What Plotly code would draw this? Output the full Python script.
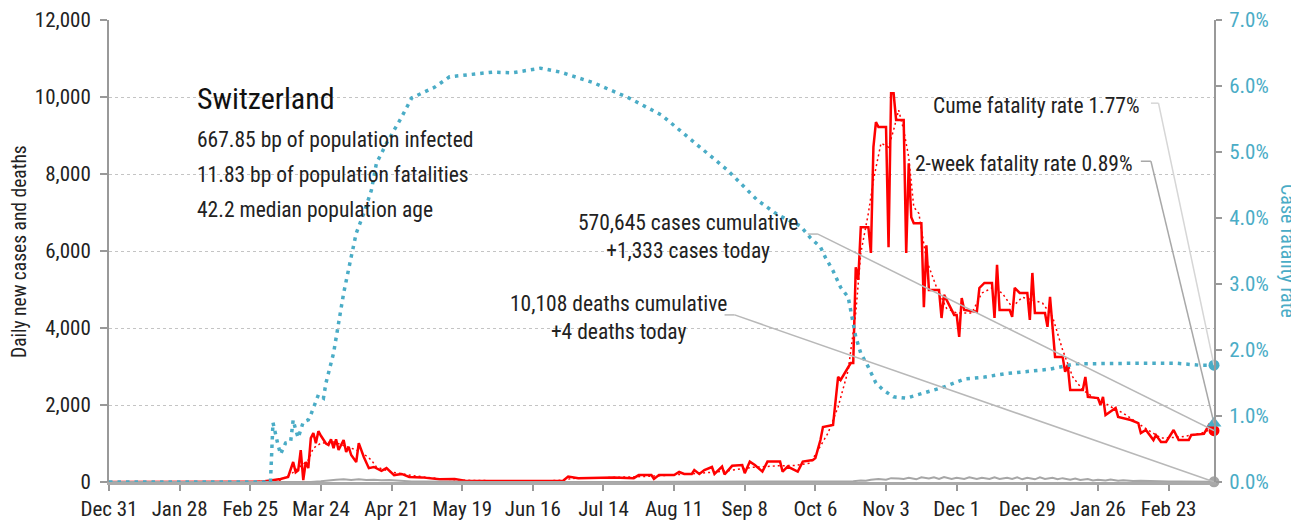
import pandas as pd
import plotly.graph_objects as go

# day offsets counted from 2019-12-31
START = pd.Timestamp("2019-12-31")

case_days = [0, 56, 60, 64, 68, 71, 73, 74, 75, 76, 77, 78, 79, 80, 81, 82, 83, 84, 85, 86,
             87, 88, 89, 90, 91, 92, 93, 94, 95, 96, 98, 99, 101, 103, 105, 108, 110, 113, 116, 119,
             121, 124, 131, 137, 141, 150, 160, 170, 180, 182, 186, 195, 200, 208, 210, 215, 216, 218, 224, 226,
             228, 231, 232, 234, 236, 239, 240, 243, 244, 247, 251, 252, 254, 256, 259, 261, 266, 267, 269, 273,
             275, 279, 280, 282, 283, 287, 288, 289, 290, 294, 295, 296, 297, 298, 301, 302, 303, 304, 305, 308,
             309, 310, 311, 312, 315, 316, 317, 318, 319, 322, 323, 324, 325, 329, 330, 331, 333, 335, 336, 337,
             338, 339, 344, 345, 347, 350, 351, 352, 353, 357, 358, 359, 361, 364, 365, 366, 367, 371, 372, 373,
             375, 378, 379, 380, 381, 386, 387, 388, 392, 393, 394, 395, 399, 400, 405, 408, 409, 411, 414, 415,
             417, 419, 422, 424, 428, 429, 434, 436, 438]
case_values = [0, 0, 10, 40, 80, 130, 520, 250, 300, 830, 50, 520, 360, 1140, 1270, 1010, 1320, 1200, 1090, 1000,
               960, 1110, 880, 1110, 830, 950, 1090, 780, 910, 700, 520, 1010, 650, 360, 390, 290, 360, 180, 210, 130,
               130, 120, 70, 80, 35, 30, 20, 25, 35, 140, 100, 110, 120, 100, 180, 180, 80, 180, 180, 260,
               210, 210, 310, 210, 310, 390, 210, 400, 200, 420, 440, 230, 530, 440, 270, 530, 530, 270, 400, 270,
               530, 570, 620, 1090, 1430, 1480, 2050, 2730, 2650, 3090, 3090, 5580, 5250, 6620, 6620, 5950, 8700, 9350, 9220, 9220,
               6100, 10100, 10100, 9400, 9400, 5950, 8280, 6880, 6720, 6720, 4540, 6150, 4990, 4990, 4260, 4860, 4600, 4340, 4340, 3770,
               4780, 4470, 4420, 5040, 5170, 5170, 4260, 5640, 4470, 4470, 4290, 5040, 4910, 4910, 4210, 5430, 4390, 4390, 4030, 4810,
               3250, 3250, 2860, 3040, 2390, 2390, 2730, 2210, 2180, 2000, 2210, 1740, 1920, 1690, 1610, 1530, 1270, 1350, 1090, 1220,
               1040, 1040, 1350, 1090, 1090, 1220, 1250, 1480, 1333]

avg_days = [0, 60, 64, 68, 72, 76, 79, 81, 84, 89, 92, 96, 100, 104, 106, 112, 120, 130, 140, 150,
            165, 178, 185, 195, 205, 215, 225, 235, 245, 255, 265, 272, 278, 285, 289, 293, 296, 298, 301, 303,
            306, 309, 311, 313, 315, 317, 319, 321, 324, 328, 332, 336, 342, 346, 350, 354, 358, 362, 366, 370,
            374, 378, 382, 386, 390, 394, 398, 402, 410, 417, 425, 433, 438]
avg_values = [0, 0, 20, 50, 200, 400, 570, 880, 1010, 1040, 980, 880, 780, 570, 390, 260, 170, 90, 45, 30,
              20, 40, 100, 110, 125, 150, 190, 230, 290, 380, 420, 430, 490, 1270, 1950, 2900, 4390, 5950, 6980, 7840,
              8800, 8700, 9140, 9660, 9140, 8440, 7140, 6980, 5770, 5060, 4510, 4390, 4390, 4910, 5040, 4910, 4540, 4800, 4730, 4650,
              4290, 3430, 2730, 2390, 2210, 2080, 1920, 1790, 1430, 1140, 1170, 1270, 1400]

death_days = [0, 80, 84, 87, 90, 93, 96, 99, 102, 105, 108, 111, 114, 117, 120, 125, 135, 150, 200, 250,
              280, 290, 295, 298, 300, 302, 305, 308, 310, 313, 315, 317, 320, 322, 325, 327, 329, 331, 334, 336,
              339, 341, 344, 346, 349, 351, 353, 356, 358, 360, 362, 364, 367, 369, 371, 374, 376, 378, 381, 383,
              385, 388, 390, 392, 395, 397, 400, 402, 406, 409, 413, 416, 420, 425, 430, 435, 438]
death_values = [0, 0, 20, 50, 60, 70, 55, 70, 55, 60, 45, 50, 35, 30, 15, 10, 5, 2, 2, 3,
                5, 10, 20, 40, 35, 60, 80, 60, 100, 90, 80, 110, 70, 120, 90, 120, 80, 130, 80, 110,
                80, 120, 80, 110, 80, 120, 80, 110, 80, 120, 70, 110, 70, 120, 80, 110, 70, 100, 60, 90,
                50, 80, 40, 60, 40, 65, 30, 45, 25, 30, 20, 25, 15, 15, 10, 8, 4]

cfr_days = [0, 64, 65, 66, 67, 68, 69, 70, 72, 73, 74, 75, 77, 79, 80, 82, 83, 85, 86, 89,
            91, 93, 96, 98, 101, 104, 106, 110, 116, 120, 129, 135, 152, 160, 171, 179, 192, 206, 219, 232,
            245, 257, 265, 274, 278, 282, 284, 287, 290, 293, 295, 296, 298, 301, 304, 307, 311, 316, 323, 331,
            339, 347, 355, 365, 373, 383, 396, 410, 423, 432, 438]
cfr_values = [0, 0, 0.90, 0.70, 0.56, 0.42, 0.50, 0.59, 0.61, 0.94, 0.79, 0.67, 0.91, 0.94, 1.02, 1.21, 1.32, 1.27, 1.50, 1.95,
              2.40, 2.86, 3.41, 3.77, 4.07, 4.42, 4.83, 5.13, 5.53, 5.82, 5.98, 6.14, 6.21, 6.20, 6.27, 6.21, 6.05, 5.82, 5.56, 5.15,
              4.73, 4.27, 4.05, 3.88, 3.70, 3.56, 3.40, 3.20, 2.95, 2.80, 2.40, 2.20, 1.95, 1.74, 1.50, 1.39, 1.29, 1.27, 1.35, 1.44,
              1.56, 1.59, 1.64, 1.68, 1.71, 1.79, 1.80, 1.80, 1.80, 1.77, 1.77]

last_cases = 1333
last_deaths = 4
cume_cfr = 1.77
two_week_cfr = 0.89

TEAL = "#4aacc6"
FONT = "Roboto Condensed, Liberation Sans Narrow, sans-serif"


def to_dates(days):
    return START + pd.to_timedelta(days, unit="D")


last_day = to_dates([438])[0]

fig = go.Figure()

fig.add_trace(go.Scatter(x=to_dates(avg_days), y=avg_values, mode="lines",
                         line=dict(color="#ff0000", width=1.5, dash="2px,3px")))
fig.add_trace(go.Scatter(x=to_dates(case_days), y=case_values, mode="lines",
                         line=dict(color="#ff0000", width=2.5)))
fig.add_trace(go.Scatter(x=to_dates(death_days), y=death_values, mode="lines",
                         line=dict(color="#a6a6a6", width=2)))
fig.add_trace(go.Scatter(x=to_dates(cfr_days), y=[v / 100 for v in cfr_values], mode="lines",
                         yaxis="y2", line=dict(color=TEAL, width=3.5, dash="3.5px,5px")))

# end-point markers
fig.add_trace(go.Scatter(x=[last_day], y=[last_cases], mode="markers", cliponaxis=False,
                         marker=dict(color="#ff0000", size=11)))
fig.add_trace(go.Scatter(x=[last_day], y=[last_deaths], mode="markers", cliponaxis=False,
                         marker=dict(color="#a6a6a6", size=11)))
fig.add_trace(go.Scatter(x=[last_day], y=[cume_cfr / 100], mode="markers", yaxis="y2", cliponaxis=False,
                         marker=dict(color=TEAL, size=11)))
fig.add_trace(go.Scatter(x=[last_day], y=[two_week_cfr / 100], mode="markers", yaxis="y2", cliponaxis=False,
                         marker=dict(color=TEAL, size=13, symbol="triangle-up")))


def leader(d0, d1, y_start, y_end, yref, color):
    x0, x1 = to_dates([d0, d1])
    fig.add_shape(type="line", xref="x", yref=yref, x0=x0, x1=x1, y0=y_start, y1=y_start,
                  line=dict(color=color, width=1.5))
    fig.add_shape(type="line", xref="x", yref=yref, x0=x1, x1=last_day, y0=y_start, y1=y_end,
                  line=dict(color=color, width=1.5))


leader(277, 281, 6440, last_cases, "y", "#b8b8b8")
leader(244, 248, 4340, last_deaths, "y", "#b8b8b8")
leader(413, 416, 0.0574, cume_cfr / 100, "y2", "#d6d6d6")
leader(409, 413, 0.0486, two_week_cfr / 100, "y2", "#a8a8a8")

ann = dict(xref="paper", yref="paper", showarrow=False, yanchor="middle",
           font=dict(family=FONT, size=21.5, color="#222"))
fig.add_annotation(x=0.078, y=0.831, xanchor="left", text="Switzerland",
                   **{**ann, "font": dict(family=FONT, size=30, color="#111")})
fig.add_annotation(x=0.078, y=0.742, xanchor="left", text="667.85 bp of population infected", **ann)
fig.add_annotation(x=0.078, y=0.665, xanchor="left", text="11.83 bp of population fatalities", **ann)
fig.add_annotation(x=0.078, y=0.589, xanchor="left", text="42.2 median population age", **ann)
fig.add_annotation(x=0.524, y=0.531, xanchor="center", align="center",
                   text="570,645 cases cumulative<br>+1,333 cases today", **ann)
fig.add_annotation(x=0.461, y=0.356, xanchor="center", align="center",
                   text="10,108 deaths cumulative<br>+4 deaths today", **ann)
fig.add_annotation(x=0.935, y=0.816, xanchor="right", text="Cume fatality rate 1.77%", **ann)
fig.add_annotation(x=0.9285, y=0.690, xanchor="right", text="2-week fatality rate 0.89%", **ann)
fig.add_annotation(x=-0.0815, y=0.5, xanchor="center", textangle=-90, borderpad=0,
                   text="Daily new cases and deaths", **{**ann, "font": dict(family=FONT, size=19.5, color="#222")})
fig.add_annotation(x=1.0670, y=0.5, xanchor="center", textangle=90, borderpad=0,
                   text="Case fatality rate", **{**ann, "font": dict(family=FONT, size=20, color=TEAL)})

# the page body adds an 8px margin, so the figure is 8px smaller than the window
fig.update_layout(
    width=1291, height=515,
    margin=dict(l=101, r=85, t=12, b=41, autoexpand=False),
    plot_bgcolor="white", paper_bgcolor="white",
    showlegend=False,
    font=dict(family=FONT, size=21, color="#222"),
    xaxis=dict(type="date", range=[START, last_day], tick0=START, dtick=28 * 86400000,
               tickformat="%b %-d", ticks="outside", ticklen=6, tickwidth=1.5, tickcolor="#999",
               showline=True, linecolor="#aaa", linewidth=3, showgrid=False, zeroline=False,
               automargin=False),
    yaxis=dict(range=[0, 12000], dtick=2000, tickformat=",", ticks="outside", ticklen=7,
               tickwidth=1.5, tickcolor="#999", showline=True, linecolor="#999", linewidth=2,
               gridcolor="#c4c4c4", griddash="dot", gridwidth=1, zeroline=False, ticklabelstandoff=5,
               automargin=False),
    yaxis2=dict(overlaying="y", side="right", range=[0, 0.07], dtick=0.01, tickformat=".1%",
                ticks="outside", ticklen=6, tickwidth=1.5, tickcolor="#999", showline=True,
                linecolor="#999", linewidth=2, showgrid=False, zeroline=False,
                tickfont=dict(color=TEAL), ticklabelstandoff=3, automargin=False),
)

fig.write_html("out.html")
